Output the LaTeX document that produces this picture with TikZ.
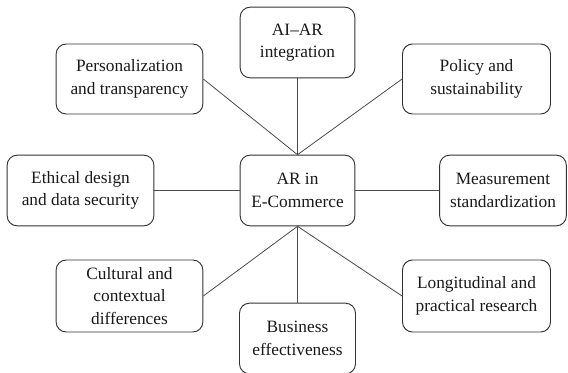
\documentclass[tikz,border=0pt]{standalone}
\usepackage{fontspec}
\setmainfont{Liberation Serif}
\usepackage{tikz}

\begin{document}
\begin{tikzpicture}[x=0.75pt, y=-0.75pt,
  every node/.style={font=\fontsize{13}{17}\selectfont, text=black!90},
  topic/.style={draw=black!80, rounded corners=7.5pt, line width=0.7pt, align=center, inner sep=0pt},
  link/.style={draw=black!70, line width=0.6pt}]

\useasboundingbox (0,0) rectangle (568,372);

% Centro
\node[topic, minimum width=86pt, minimum height=53pt] (core) at (297.5,190.5) {AR in\\E-Commerce};

% Riquadri intorno
\node[topic, minimum width=86pt, minimum height=53pt] (ai) at (297.5,42.5) {AI--AR\\integration};
\node[topic, minimum width=110pt, minimum height=52.5pt] (pers) at (129.5,79) {Personalization\\and transparency};
\node[topic, minimum width=111pt, minimum height=52.5pt] (pol) at (476.5,79) {Policy and\\sustainability};
\node[topic, minimum width=110pt, minimum height=53pt] (eth) at (80.5,190.5) {Ethical design\\and data security};
\node[topic, minimum width=95pt, minimum height=53pt] (meas) at (503,190.5) {Measurement\\standardization};
\node[topic, minimum width=110pt, minimum height=54pt] (cult) at (129.5,296) {Cultural and\\contextual\\differences};
\node[topic, minimum width=111pt, minimum height=54pt] (long) at (476.5,296) {Longitudinal and\\practical research};
\node[topic, minimum width=87pt, minimum height=53pt] (bus) at (297.5,338.5) {Business\\effectiveness};

% Collegamenti
\draw[link] (pers.east) -- (core.north);
\draw[link] (ai.south) -- (core.north);
\draw[link] (pol.west) -- (core.north);
\draw[link] (eth.east) -- (core.west);
\draw[link] (meas.west) -- (core.east);
\draw[link] (cult.east) -- (core.south);
\draw[link] (bus.north) -- (core.south);
\draw[link] (long.west) -- (core.south);
\end{tikzpicture}
\end{document}
